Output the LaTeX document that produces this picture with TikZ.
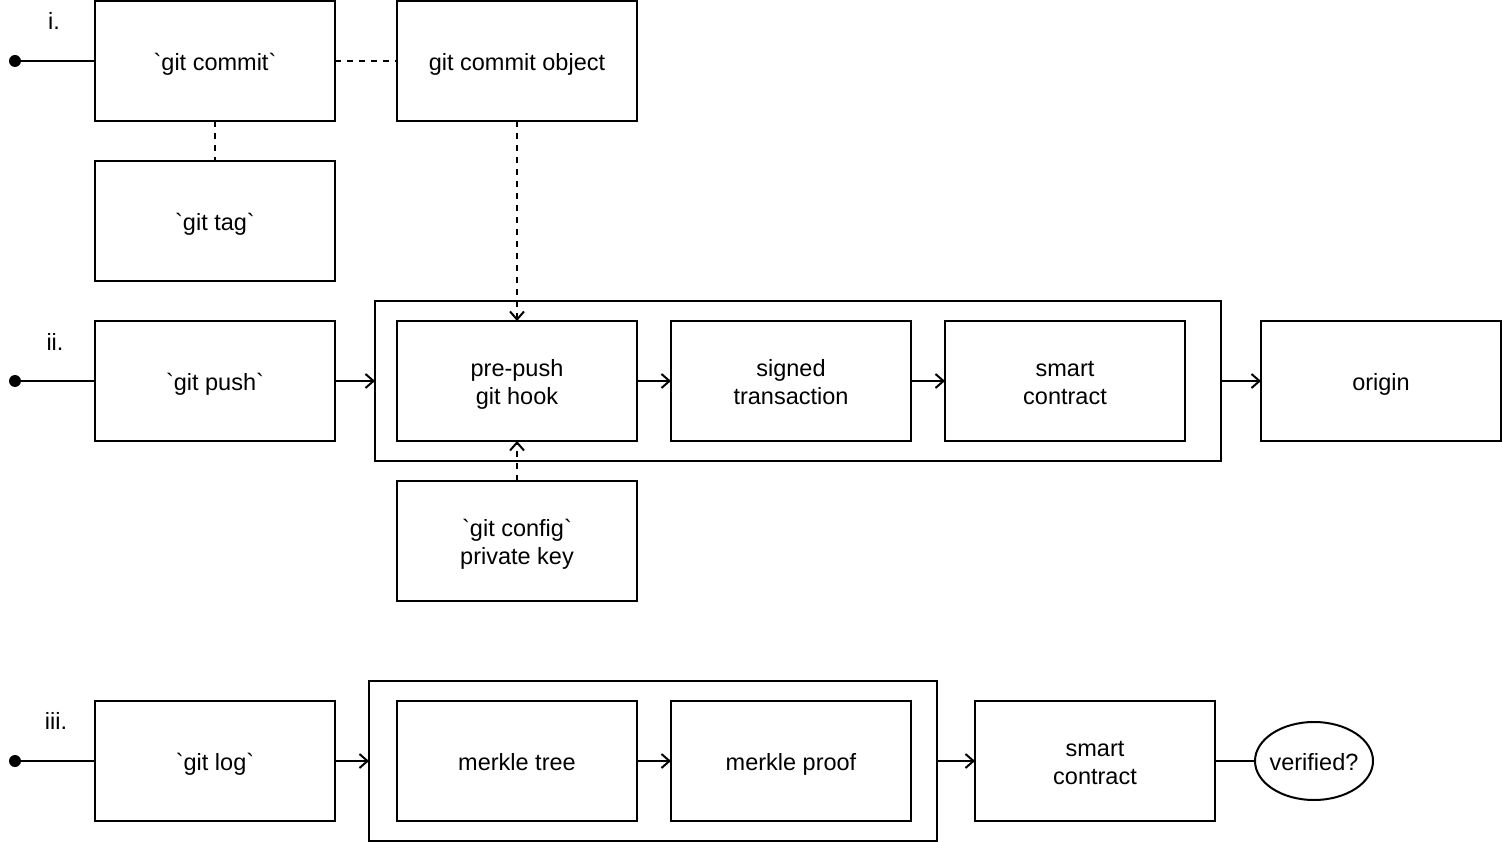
\documentclass[tikz,border=0pt]{standalone}
\usepackage{fontspec}
\setmainfont{Liberation Sans}[Ligatures=TeXOff]
\usetikzlibrary{arrows.meta,shapes.geometric}
\newcommand{\bq}{\char"60\relax}
\begin{document}
\begin{tikzpicture}[x=1pt,y=-1pt,
  line width=2pt,
  every node/.style={font=\fontsize{23.5}{28}\selectfont, inner sep=0pt, outer sep=0pt, align=center},
  one/.style={text height=21pt, text depth=2pt},
  two/.style={text height=49pt, text depth=2pt},
  box/.style={draw, minimum width=240pt, minimum height=120pt},
  cont/.style={draw, minimum height=160pt},
  dot/.style={circle, fill, minimum size=12pt},
  arr/.style={-{Straight Barb[length=8pt,width=14pt,line width=2pt]}},
  dsh/.style={dash pattern=on 6pt off 6pt}]
\useasboundingbox (0,0) rectangle (1502,842);
% row i
\node[box, one] (commit) at (215,61) {\bq git commit\bq};
\node[box, one] (cobj) at (517,61) {git commit object};
\node[box, one] (tag) at (215,221) {\bq git tag\bq};
\node[dot] (d1) at (15,61) {};
\node[one] (l1) at (54,20) {i.};
% row ii
\node[cont, minimum width=846pt] (c2) at (798,381) {};
\node[box, one] (push) at (215,381) {\bq git push\bq};
\node[box, two] (hook) at (517,381) {pre-push\\git hook};
\node[box, two] (sign) at (791,381) {signed\\transaction};
\node[box, two] (sc1) at (1065,381) {smart\\contract};
\node[box, one] (origin) at (1381,381) {origin};
\node[box, two] (cfg) at (517,541) {\bq git config\bq\\private key};
\node[dot] (d2) at (15,381) {};
\node[one] (l2) at (55,341) {ii.};
% row iii
\node[cont, minimum width=568pt] (c3) at (653,761) {};
\node[box, one] (log) at (215,761) {\bq git log\bq};
\node[box, one] (tree) at (517,761) {merkle tree};
\node[box, one] (proof) at (791,761) {merkle proof};
\node[box, two] (sc2) at (1095,761) {smart\\contract};
\node[draw, ellipse, minimum width=118pt, minimum height=78pt] (ver) at (1314,761) {};
\node[one] (vert) at (ver.center) {verified?};
\node[dot] (d3) at (15,761) {};
\node[one] (l3) at (56,720) {iii.};
% connectors
\draw (d1.center) -- (commit.west);
\draw[dsh] (commit.east) -- (cobj.west);
\draw[dsh] (commit.south) -- (tag.north);
\draw[dsh, arr] (cobj.south) -- (hook.north);
\draw[dsh, arr] (cfg.north) -- (hook.south);
\draw (d2.center) -- (push.west);
\draw[arr] (push.east) -- (c2.west);
\draw[arr] (hook.east) -- (sign.west);
\draw[arr] (sign.east) -- (sc1.west);
\draw[arr] (c2.east) -- (origin.west);
\draw (d3.center) -- (log.west);
\draw[arr] (log.east) -- (c3.west);
\draw[arr] (tree.east) -- (proof.west);
\draw[arr] (c3.east) -- (sc2.west);
\draw (sc2.east) -- (ver.west);
\end{tikzpicture}
\end{document}
